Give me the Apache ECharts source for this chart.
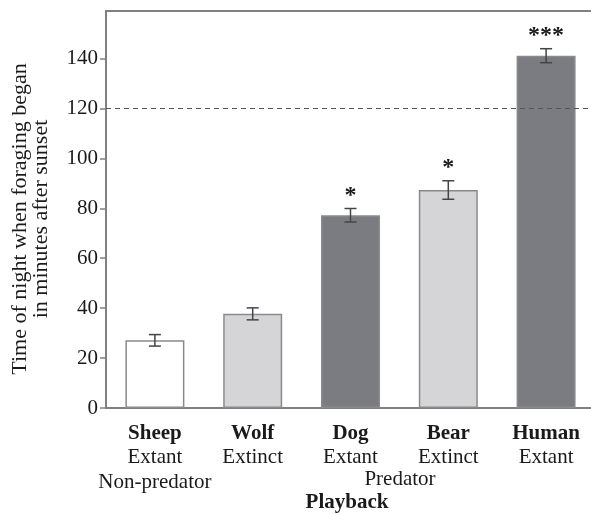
<!DOCTYPE html>
<html>
<head>
<meta charset="utf-8">
<script src="https://cdn.jsdelivr.net/npm/echarts@6/dist/echarts.min.js"></script>
<style>html,body{margin:0;padding:0;background:#fff}#c{width:591px;height:514px}</style>
</head>
<body>
<div id="c"></div>
<script>
const categories = ['Sheep', 'Wolf', 'Dog', 'Bear', 'Human'];
const status = ['Extant', 'Extinct', 'Extant', 'Extinct', 'Extant'];
const means = [27.1, 37.7, 77.2, 87.3, 141.1];
const errors = [2.3, 2.4, 2.7, 3.7, 2.8];
const stars = ['', '', '*', '*', '***'];
const barColors = ['#ffffff', '#d5d5d7', '#7b7c81', '#d5d5d7', '#7b7c81'];
const yTicks = [0, 20, 40, 60, 80, 100, 120, 140];
const refLine = 120;

const FONT = '"Liberation Serif", "DejaVu Serif", serif';
const chart = echarts.init(document.getElementById('c'));
chart.setOption({
  animation: false,
  grid: { left: 106, top: 11, bottom: 106, width: 489, outerBoundsMode: 'none', containLabel: false,
          show: true, borderColor: '#808080', borderWidth: 2, backgroundColor: 'transparent' },
  xAxis: {
    type: 'category',
    data: categories,
    axisLine: { lineStyle: { color: '#808080', width: 2 } },
    axisTick: { alignWithLabel: true, length: 6, lineStyle: { color: '#808080', width: 1.5 } },
    axisLabel: {
      interval: 0,
      hideOverlap: false,
      margin: 13,
      formatter: function (v, i) {
        let s = '{b|' + v + '}\n{n|' + status[i] + '}';
        if (i === 0) s += '\n{n|Non-predator}';
        return s;
      },
      rich: {
        b: { fontFamily: FONT, fontWeight: 'bold', fontSize: 21, color: '#1a1a1a', lineHeight: 24.5 },
        n: { fontFamily: FONT, fontSize: 21, color: '#1a1a1a', lineHeight: 24.5 }
      }
    }
  },
  yAxis: {
    type: 'value',
    min: 0,
    max: 159,
    interval: 20,
    axisLine: { show: true, lineStyle: { color: '#808080', width: 2 } },
    axisTick: { show: true, length: 6, customValues: yTicks, lineStyle: { color: '#808080', width: 1.5 } },
    splitLine: { show: false },
    axisLabel: {
      margin: 8,
      customValues: yTicks,
      fontFamily: FONT, fontSize: 21, color: '#1a1a1a'
    }
  },
  graphic: [{
    type: 'text', x: 400, y: 479,
    style: { text: 'Predator', fontFamily: FONT, fontSize: 21, fill: '#1a1a1a', align: 'center', verticalAlign: 'middle' }
  }, {
    type: 'text', x: 347, y: 503,
    style: { text: 'Playback', fontFamily: FONT, fontSize: 21, fontWeight: 'bold', fill: '#1a1a1a', align: 'center', verticalAlign: 'middle' }
  }, {
    type: 'text', x: 31, y: 219, rotation: Math.PI / 2,
    style: { text: 'Time of night when foraging began\nin minutes after sunset', fontFamily: FONT, fontSize: 22,
             lineHeight: 21, fill: '#1a1a1a', align: 'center', verticalAlign: 'middle' }
  }],
  series: [{
    type: 'bar',
    data: means.map((v, i) => ({ value: v, itemStyle: { color: barColors[i] } })),
    barWidth: 59,
    itemStyle: { borderColor: '#8a8a8a', borderWidth: 1.5 },
    markLine: {
      silent: true, symbol: 'none', label: { show: false },
      lineStyle: { color: '#555', type: [5, 4], width: 1 },
      data: [{ yAxis: refLine }]
    }
  }, {
    type: 'custom',
    z: 10,
    data: means.map((v, i) => [i, v, errors[i]]),
    renderItem: function (params, api) {
      const x = api.value(0), m = api.value(1), e = api.value(2);
      const top = api.coord([x, m + e]);
      const bot = api.coord([x, m - e]);
      const cap = 6;
      const st = { stroke: '#444', lineWidth: 1.5 };
      const children = [
        { type: 'line', shape: { x1: top[0], y1: top[1], x2: bot[0], y2: bot[1] }, style: st },
        { type: 'line', shape: { x1: top[0] - cap, y1: top[1], x2: top[0] + cap, y2: top[1] }, style: st },
        { type: 'line', shape: { x1: bot[0] - cap, y1: bot[1], x2: bot[0] + cap, y2: bot[1] }, style: st }
      ];
      const s = stars[params.dataIndex];
      if (s) {
        children.push({ type: 'text', x: top[0], y: top[1] - 1,
          style: { text: s, fontFamily: FONT, fontSize: 24, fontWeight: 'bold', fill: '#1a1a1a', align: 'center', verticalAlign: 'bottom' } });
      }
      return { type: 'group', children: children };
    }
  }]
});
</script>
</body>
</html>
